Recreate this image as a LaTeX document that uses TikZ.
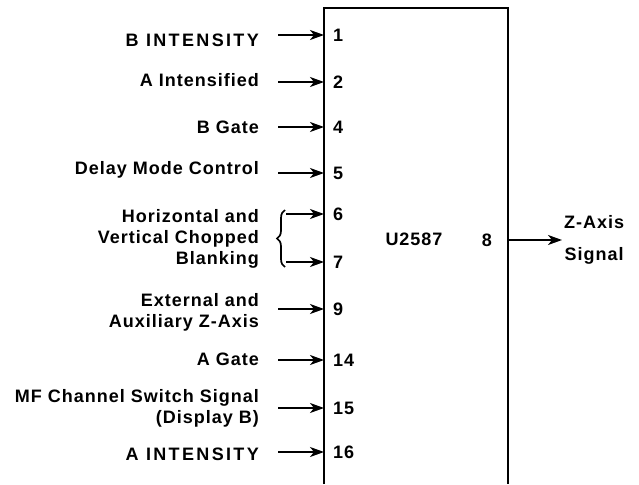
\documentclass[tikz,border=0pt]{standalone}
\usepackage{fontspec}
\newfontfamily\lblfont{Liberation Sans Bold}[LetterSpace=5.5]
\newfontfamily\capsfont{Liberation Sans Bold}[LetterSpace=13]
\usetikzlibrary{arrows.meta,positioning,decorations.pathreplacing}

\begin{document}
\begin{tikzpicture}[
    x=1pt, y=1pt,
    lbl/.style={font=\lblfont\fontsize{18}{21}\selectfont, inner sep=0pt, align=right, anchor=base east},
    capslbl/.style={lbl, font=\capsfont\fontsize{18}{21}\selectfont},
    pinnum/.style={font=\lblfont\fontsize{18}{21}\selectfont, inner xsep=9pt, inner ysep=0pt, anchor=west},
    arrow/.style={-{Stealth[length=14pt, width=10pt, inset=4pt]}, line width=1.7pt},
    chip/.style={line width=1.9pt}
]
\useasboundingbox (0,0) rectangle (639,-484);

% the chip outline, open at the bottom
\draw[chip] (324,-484) -- (324,-8) -- (508,-8) -- (508,-484);
\node[font=\lblfont\fontsize{18}{21}\selectfont] (ic) at (414,-239) {U2587};

% pin numbers
\node[pinnum] (n1) at (324,-35) {1};
\node[pinnum] (n2) at (324,-82) {2};
\node[pinnum] (n4) at (324,-127) {4};
\node[pinnum] (n5) at (324,-173) {5};
\node[pinnum] (n6) at (324,-214) {6};
\node[pinnum] (n7) at (324,-262) {7};
\node[pinnum] (n9) at (324,-309) {9};
\node[pinnum] (n14) at (324,-360) {14};
\node[pinnum] (n15) at (324,-408) {15};
\node[pinnum] (n16) at (324,-452) {16};
\node[pinnum, anchor=east, inner xsep=16pt] (n8) at (508,-240) {8};

% signal names (base = last line)
\node[capslbl] (s1) at (259,-47) {B INTENSITY};
\node[lbl] (s2) at (259,-87) {A Intensified};
\node[lbl] (s4) at (259,-133) {B Gate};
\node[lbl] (s5) at (259,-174) {Delay Mode Control};
\node[lbl] (s6) at (259,-264) {Horizontal and\\Vertical Chopped\\Blanking};
\node[lbl] (s9) at (259,-327) {External and\\Auxiliary Z-Axis};
\node[lbl] (s14) at (259,-365) {A Gate};
\node[lbl] (s15) at (259,-423) {MF Channel Switch Signal\\(Display B)};
\node[capslbl] (s16) at (259,-460) {A INTENSITY};
\node[lbl, align=center, anchor=west, inner xsep=2pt] (zout) at (562,-240) {Z-Axis\\[11pt]Signal};

% brace for pins 6 and 7
\coordinate (br1) at (285,-267);
\coordinate (br2) at (285,-210);
\coordinate (b6) at (286,-214);
\coordinate (b7) at (286,-262);
\draw[line width=1.7pt, decorate, decoration={brace, amplitude=8pt}] (br1) -- (br2);

% inputs
\draw[arrow] (s1.east |- n1.west) ++(19,0) -- (n1.west);
\draw[arrow] (s2.east |- n2.west) ++(19,0) -- (n2.west);
\draw[arrow] (s4.east |- n4.west) ++(19,0) -- (n4.west);
\draw[arrow] (s5.east |- n5.west) ++(19,0) -- (n5.west);
\draw[arrow] (b6) -- (n6.west);
\draw[arrow] (b7) -- (n7.west);
\draw[arrow] (s9.east |- n9.west) ++(19,0) -- (n9.west);
\draw[arrow] (s14.east |- n14.west) ++(19,0) -- (n14.west);
\draw[arrow] (s15.east |- n15.west) ++(19,0) -- (n15.west);
\draw[arrow] (s16.east |- n16.west) ++(19,0) -- (n16.west);

% output
\draw[arrow] (n8.east) -- (zout.west);
\end{tikzpicture}
\end{document}
